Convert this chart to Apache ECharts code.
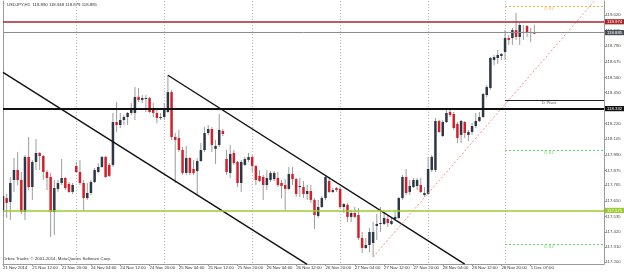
<!DOCTYPE html>
<html><head><meta charset="utf-8">
<script src="https://cdn.jsdelivr.net/npm/echarts@6/dist/echarts.min.js"></script>
<style>html,body{margin:0;padding:0;background:#fff}#c{width:624px;height:272px}</style>
</head><body><div id="c"></div>
<script>
// ---- data (USDJPY H1) ----
var opens = [117.568,117.671,117.642,117.804,117.878,117.804,117.568,117.974,117.752,117.937,
118.003,117.981,117.863,117.826,117.568,117.738,117.782,117.819,117.775,117.716,
117.907,117.863,117.782,117.671,117.708,117.789,117.863,117.900,117.974,117.915,
117.915,118.231,118.209,118.246,118.268,118.298,118.298,118.416,118.394,118.401,
118.408,118.327,118.298,118.261,118.268,118.305,118.452,118.121,118.114,118.025,
117.856,117.966,117.885,117.870,117.944,118.025,118.150,118.180,118.033,118.062,
118.165,117.959,117.856,118.003,117.937,117.782,117.915,117.952,117.974,117.907,
117.834,117.826,117.767,117.804,117.811,117.819,117.782,117.767,117.738,117.848,
117.811,117.752,117.752,117.701,117.723,117.657,117.539,117.605,117.671,117.797,
117.716,117.745,117.738,117.605,117.620,117.532,117.561,117.546,117.377,117.303,
117.325,117.340,117.465,117.480,117.480,117.517,117.480,117.517,117.524,117.671,
117.826,117.716,117.752,117.760,117.767,117.694,117.701,117.878,117.878,118.239,
118.128,118.231,118.305,118.290,118.217,118.136,118.231,118.136,118.158,118.202,
118.239,118.268,118.430,118.482,118.688,118.703,118.718,118.747,118.850,118.850,
118.909,118.858,118.887,118.939,118.887,118.890];
var closes = [117.686,117.635,117.782,117.878,117.804,117.568,117.974,117.752,117.937,118.003,
117.981,117.863,117.819,117.568,117.745,117.782,117.819,117.745,117.716,117.767,
117.863,117.782,117.671,117.708,117.789,117.878,117.900,117.974,117.826,117.834,
118.231,118.209,118.246,118.268,118.298,118.320,118.416,118.394,118.408,118.408,
118.305,118.298,118.261,118.268,118.327,118.452,118.121,118.099,118.025,117.856,
117.966,117.856,117.856,117.944,118.025,118.150,118.180,118.062,118.055,118.173,
118.143,117.863,117.996,117.929,117.782,117.937,117.959,117.974,117.907,117.804,
117.797,117.767,117.819,117.856,117.856,117.767,117.760,117.738,117.848,117.811,
117.701,117.760,117.701,117.723,117.657,117.546,117.605,117.671,117.826,117.716,
117.730,117.730,117.605,117.627,117.532,117.561,117.532,117.377,117.303,117.325,
117.421,117.421,117.480,117.487,117.524,117.487,117.502,117.532,117.671,117.826,
117.708,117.760,117.804,117.804,117.716,117.708,117.885,117.974,118.239,118.158,
118.231,118.298,118.283,118.187,118.114,118.239,118.150,118.158,118.202,118.239,
118.268,118.438,118.489,118.703,118.710,118.725,118.733,118.850,118.836,118.909,
118.858,118.946,118.895,118.887,118.895,118.885];
var lows = [117.509,117.524,117.509,117.716,117.767,117.554,117.509,117.730,117.657,117.878,
117.878,117.804,117.730,117.384,117.399,117.716,117.767,117.730,117.708,117.701,
117.856,117.767,117.583,117.657,117.694,117.782,117.856,117.893,117.819,117.826,
117.900,118.158,118.187,118.209,118.209,118.283,118.246,118.379,118.371,118.305,
118.298,118.268,118.224,118.246,118.246,118.298,118.099,117.782,118.010,117.841,
117.841,117.841,117.841,117.694,117.937,118.010,118.136,118.010,117.922,118.047,
118.128,117.841,117.819,117.915,117.752,117.716,117.907,117.937,117.863,117.767,
117.789,117.657,117.730,117.789,117.797,117.752,117.671,117.583,117.730,117.767,
117.679,117.679,117.671,117.657,117.635,117.443,117.524,117.598,117.657,117.708,
117.708,117.716,117.598,117.561,117.495,117.495,117.524,117.362,117.266,117.296,
117.273,117.237,117.362,117.421,117.472,117.458,117.472,117.509,117.517,117.657,
117.694,117.694,117.745,117.730,117.708,117.679,117.694,117.863,117.863,118.150,
118.121,118.224,118.268,118.173,118.077,118.077,118.114,118.092,118.136,118.187,
118.231,118.261,118.416,118.467,118.651,118.659,118.688,118.688,118.799,118.799,
118.836,118.799,118.836,118.858,118.821,118.879];
var highs = [117.716,117.701,117.826,117.966,118.010,117.863,117.988,118.121,117.952,118.106,
118.010,117.988,117.878,117.856,117.804,117.804,117.959,117.826,117.789,117.782,
117.937,117.952,117.804,117.782,117.804,117.893,117.929,117.981,117.981,117.929,
118.298,118.379,118.298,118.283,118.305,118.371,118.489,118.482,118.430,118.430,
118.416,118.371,118.320,118.298,118.371,118.578,118.467,118.150,118.173,118.047,
118.055,117.974,117.952,117.966,118.077,118.194,118.209,118.194,118.099,118.290,
118.180,118.025,118.062,118.025,117.944,117.952,117.974,118.003,117.988,117.915,
117.878,117.841,117.878,117.870,117.870,117.863,117.804,117.811,117.900,117.900,
117.819,117.819,117.797,117.767,117.767,117.671,117.657,117.686,117.834,117.826,
117.745,117.752,117.752,117.635,117.635,117.583,117.605,117.598,117.421,117.377,
117.450,117.495,117.554,117.605,117.568,117.546,117.524,117.583,117.679,117.841,
117.885,117.804,117.819,117.819,117.819,117.752,117.974,117.988,118.261,118.246,
118.246,118.335,118.335,118.305,118.231,118.246,118.239,118.173,118.224,118.298,
118.305,118.445,118.504,118.710,118.725,118.762,118.740,118.909,118.872,118.924,
119.035,118.961,118.946,118.946,118.924,118.948];

var slotCount = 165; // hourly slots incl. right-side shift
var timeLabels = ["21 Nov 2014","21 Nov 12:00","21 Nov 20:00","24 Nov 04:00","24 Nov 12:00","24 Nov 20:00",
 "25 Nov 04:00","25 Nov 12:00","25 Nov 20:00","26 Nov 04:00","26 Nov 12:00","26 Nov 20:00",
 "27 Nov 04:00","27 Nov 12:00","27 Nov 20:00","28 Nov 04:00","28 Nov 12:00","28 Nov 20:00","1 Dec 07:00"];
var daySeparators = [20,44,68,92,116,137];
var yTicks = [117.200,117.310,117.420,117.535,117.650,117.765,117.875,117.990,118.105,118.220,
 118.335,118.450,118.560,118.675,118.790,118.905,119.020];
var levelRed = 118.974, levelBid = 118.885, levelBlack = 118.332, levelGreen = 117.575;
var pivotNames = ['D R1','D Pivot','D S1','D S2'];
var pivotValues = [119.086, 118.394, 118.025, 117.332];
var pivotStart = 137, pivotEnd = 164, pivotLabelAt = 149;
var trendA = [[0,118.597],[83,117.182]];
var trendB = [[45,118.576],[126,117.184]];
var trendUp = [[101,117.237],[162,119.142]];
var yMin = 117.185, yMax = 119.123;

// ---- build ----
var cats = [];
for (var k = 0; k < slotCount; k++) cats.push(String(k));
var candleData = opens.map(function(o, i){ return [i, o, closes[i], lows[i], highs[i]]; });
var FF = 'Liberation Sans, Arial, sans-serif';
var FS = 4.3;

function lvl(v, color, w, bg){
  return {yAxis: v, lineStyle:{color:color, width:w, type:'solid'},
    label:{show:true, position:'end', distance:1, formatter: v.toFixed(3), color:'#fff',
      backgroundColor:bg, padding:[0.6,3,0.6,2], fontSize:FS, fontFamily:FF}};
}
var pivotColors = {'D R1':'#f5b048','D Pivot':'#222','D S1':'#5fd35f','D S2':'#5fd35f'};
var pivotTextColors = {'D R1':'#eea53a','D Pivot':'#333','D S1':'#4cc44c','D S2':'#4cc44c'};
var pivotLines = pivotNames.map(function(n, j){
  var c = pivotColors[n];
  return [{coord:[pivotStart, pivotValues[j]], lineStyle:{color:c, width:1, type: n==='D Pivot'?'solid':[2,2]}, label:{show:false}},
          {coord:[pivotEnd, pivotValues[j]]}];
});

var chart = echarts.init(document.getElementById('c'), null, {renderer:'canvas'});
chart.setOption({
  animation:false,
  backgroundColor:'#fff',
  grid:{left:1, right:20, top:1, bottom:8, containLabel:false},
  xAxis:{type:'category', data:cats, boundaryGap:false,
    axisLine:{lineStyle:{color:'#9a9a9a', width:1}},
    axisTick:{show:true, length:2, interval:function(i){return i%8===0 && i<=144;}, lineStyle:{color:'#9a9a9a'}},
    axisLabel:{interval:function(i){return i%8===0 && i<=144;}, align:'left', margin:1.5,
      formatter:function(v){ var n=Number(v); return timeLabels[n/8]||''; },
      fontSize:FS, color:'#333', fontFamily:FF},
    splitLine:{show:true, interval:function(i){return daySeparators.indexOf(i)>=0;},
      lineStyle:{color:'#b8b8b8', width:1, type:[1,2]}}
  },
  yAxis:[{type:'value', position:'right', min:yMin, max:yMax, scale:true,
    axisLine:{show:true, lineStyle:{color:'#9a9a9a'}},
    axisTick:{show:true, length:2, customValues:yTicks, lineStyle:{color:'#9a9a9a'}},
    axisLabel:{customValues:yTicks, margin:1.5, formatter:function(v){return v.toFixed(3);},
      fontSize:FS, color:'#444', fontFamily:FF},
    splitLine:{show:false}},
   {type:'value', position:'left', min:yMin, max:yMax, scale:true,
    axisLine:{show:true, lineStyle:{color:'#9a9a9a'}}, axisTick:{show:false}, axisLabel:{show:false}, splitLine:{show:false}}],
  series:[
    {type:'custom', name:'USDJPY', clip:true, z:2,
     encode:{x:0, y:[1,2,3,4]},
     data:candleData,
     renderItem:function(params, api){
       var i=api.value(0), o=api.value(1), c=api.value(2), l=api.value(3), h=api.value(4);
       var po=api.coord([i,o]), pc=api.coord([i,c]), pl=api.coord([i,l]), ph=api.coord([i,h]);
       var x=po[0];
       var top=Math.min(po[1],pc[1]), bot=Math.max(po[1],pc[1]);
       if (bot-top<1) bot=top+1;
       var bull = c>=o;
       return {type:'group', children:[
         {type:'line', shape:{x1:x,y1:ph[1],x2:x,y2:pl[1]}, style:{stroke:'#9c9c9c', lineWidth:1}},
         {type:'rect', shape:{x:x-1.25,y:top,width:2.5,height:bot-top}, style:{fill: bull?'#2d3745':'#d4202a'}}
       ]};
     }},
    {type:'line', name:'trendA', data:trendA, symbol:'none', clip:true, z:3,
     lineStyle:{color:'#111', width:1.4}},
    {type:'line', name:'trendB', data:trendB, symbol:'none', clip:true, z:3,
     lineStyle:{color:'#111', width:1.4}},
    {type:'line', name:'trendUp', data:trendUp, symbol:'none', clip:true, z:3,
     lineStyle:{color:'#f29088', width:1, type:[2,2]},
     markLine:{symbol:'none', silent:true, animation:false, z:4,
       data:[lvl(levelRed,'#a8262a',1.5,'#a8262a'), lvl(levelBid,'#8c8c8c',1,'#4a4f57'),
             lvl(levelBlack,'#111',2,'#111'), lvl(levelGreen,'#9acd32',1.5,'#9acd32')].concat(pivotLines)
     }},
    {type:'scatter', name:'pivotLabels', symbol:'circle', symbolSize:1, z:5,
     itemStyle:{color:'rgba(255,255,255,0)'},
     data:pivotNames.map(function(n, j){
       return {name:n, value:[pivotLabelAt, pivotValues[j]],
         label:{show:true, position:'bottom', distance:0.5, fontSize:FS, fontFamily:FF,
           formatter:n, color:pivotTextColors[n]}};
     })}
  ],
  graphic:[
    {type:'text', left:2, top:3, style:{text:'\u25BC', fontSize:3.2, fill:'#555', fontFamily:FF}},
    {type:'text', left:7, top:2.5, style:{text:'USDJPY,H1  118.890 118.948 118.879 118.885', fontSize:FS, fill:'#333', fontFamily:FF}},
    {type:'text', left:3, top:256.5, style:{text:'Orbex Trader, \u00A9 2001-2014, MetaQuotes Software Corp.', fontSize:FS, fill:'#333', fontFamily:FF}}
  ]
});
</script></body></html>
